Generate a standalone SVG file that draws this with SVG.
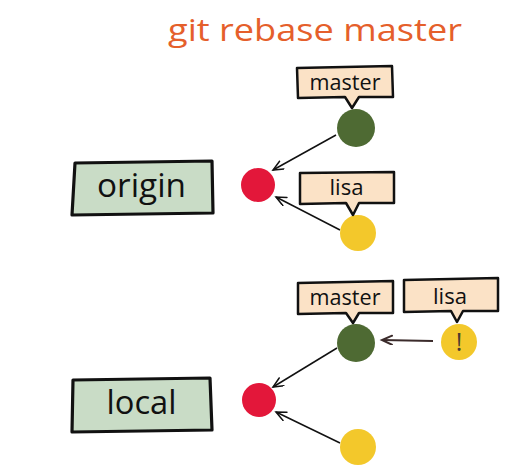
<svg xmlns="http://www.w3.org/2000/svg" width="519" height="473" viewBox="0 0 519 473">
<defs>
<style>
.t{font-family:"Open Sans","Liberation Sans",sans-serif;fill:#111}
.title{font-family:"Open Sans","Liberation Sans",sans-serif;fill:#e55f2b;font-size:31px}
.box{fill:#c9dcc6;stroke:#111;stroke-width:3.2;stroke-linejoin:round}
.bub{fill:#fbe2c6;stroke:#111;stroke-width:2.5;stroke-linejoin:round}
.red{fill:#e3173a}
.green{fill:#4e6a33}
.yel{fill:#f3c82b}
.arr{stroke:#111;stroke-width:1.5;fill:none;marker-end:url(#ah)}
.arr2{stroke:#3b2b2b;stroke-width:2.2;fill:none;marker-end:url(#ah2)}
</style>
<marker id="ah" markerUnits="userSpaceOnUse" markerWidth="14" markerHeight="12" refX="11" refY="5" orient="auto">
<path d="M1,0.5 L11,5 L1,9.5" fill="none" stroke="#111" stroke-width="1.5" stroke-linecap="round"/>
</marker>
<marker id="ah2" markerUnits="userSpaceOnUse" markerWidth="14" markerHeight="12" refX="11" refY="5" orient="auto">
<path d="M1,0.5 L11,5 L1,9.5" fill="none" stroke="#3b2b2b" stroke-width="2" stroke-linecap="round"/>
</marker>
</defs>
<rect width="519" height="473" fill="#fff"/>
<text class="title" x="168" y="41" textLength="294" lengthAdjust="spacingAndGlyphs">git rebase master</text>

<g id="connectors">
<line class="arr" x1="336" y1="135" x2="273" y2="170"/>
<line class="arr" x1="340" y1="230" x2="276" y2="197"/>
<line class="arr2" x1="433" y1="341" x2="382" y2="340"/>
<line class="arr" x1="337" y1="348" x2="273" y2="387"/>
<line class="arr" x1="340" y1="443" x2="276" y2="412"/>
</g>

<g id="origin">
<path class="box" d="M75,163 L212,161 L213,213 L72,215 Z"/>
<text class="t" x="141.5" y="197" font-size="32" text-anchor="middle" textLength="89" lengthAdjust="spacingAndGlyphs">origin</text>
</g>
<g id="origin-base"><circle class="red" cx="258" cy="185" r="17"/></g>
<g id="origin-master-commit"><circle class="green" cx="356" cy="128" r="19"/></g>
<g id="origin-lisa-commit"><circle class="yel" cx="358" cy="233" r="18"/></g>
<g id="origin-master-label">
<path class="bub" d="M297,68 L392,66 L393,97 L359,97 L352,108 L345,97 L298,98 Z"/>
<text class="t" x="345" y="89.5" font-size="22" text-anchor="middle" textLength="71" lengthAdjust="spacingAndGlyphs">master</text>
</g>
<g id="origin-lisa-label">
<path class="bub" d="M300,173 L394,172 L394,203 L359,203 L353,215 L346,203 L300,204 Z"/>
<text class="t" x="346.5" y="194.5" font-size="22" text-anchor="middle" textLength="34" lengthAdjust="spacingAndGlyphs">lisa</text>
</g>

<g id="local">
<path class="box" d="M73,380 L210,378 L212,430 L72,432 Z"/>
<text class="t" x="141.5" y="413.5" font-size="32" text-anchor="middle" textLength="70" lengthAdjust="spacingAndGlyphs">local</text>
</g>
<g id="local-base"><circle class="red" cx="259" cy="400" r="17"/></g>
<g id="local-master-commit"><circle class="green" cx="356" cy="343" r="19"/></g>
<g id="local-old-commit"><circle class="yel" cx="358" cy="447" r="18"/></g>
<g id="local-lisa-commit">
<circle class="yel" cx="459" cy="342" r="18"/>
<text x="459" y="351" font-family="Open Sans, Liberation Sans, sans-serif" font-size="25" fill="#4a3a30" text-anchor="middle">!</text>
</g>
<g id="local-master-label">
<path class="bub" d="M298,283 L393,281 L393,313 L359,313 L353,323 L346,313 L298,314 Z"/>
<text class="t" x="345" y="305" font-size="22" text-anchor="middle" textLength="71" lengthAdjust="spacingAndGlyphs">master</text>
</g>
<g id="local-lisa-label">
<path class="bub" d="M404,280 L498,278 L498,311 L463,311 L457,322 L451,311 L404,312 Z"/>
<text class="t" x="450" y="303.5" font-size="22" text-anchor="middle" textLength="34" lengthAdjust="spacingAndGlyphs">lisa</text>
</g>
</svg>
